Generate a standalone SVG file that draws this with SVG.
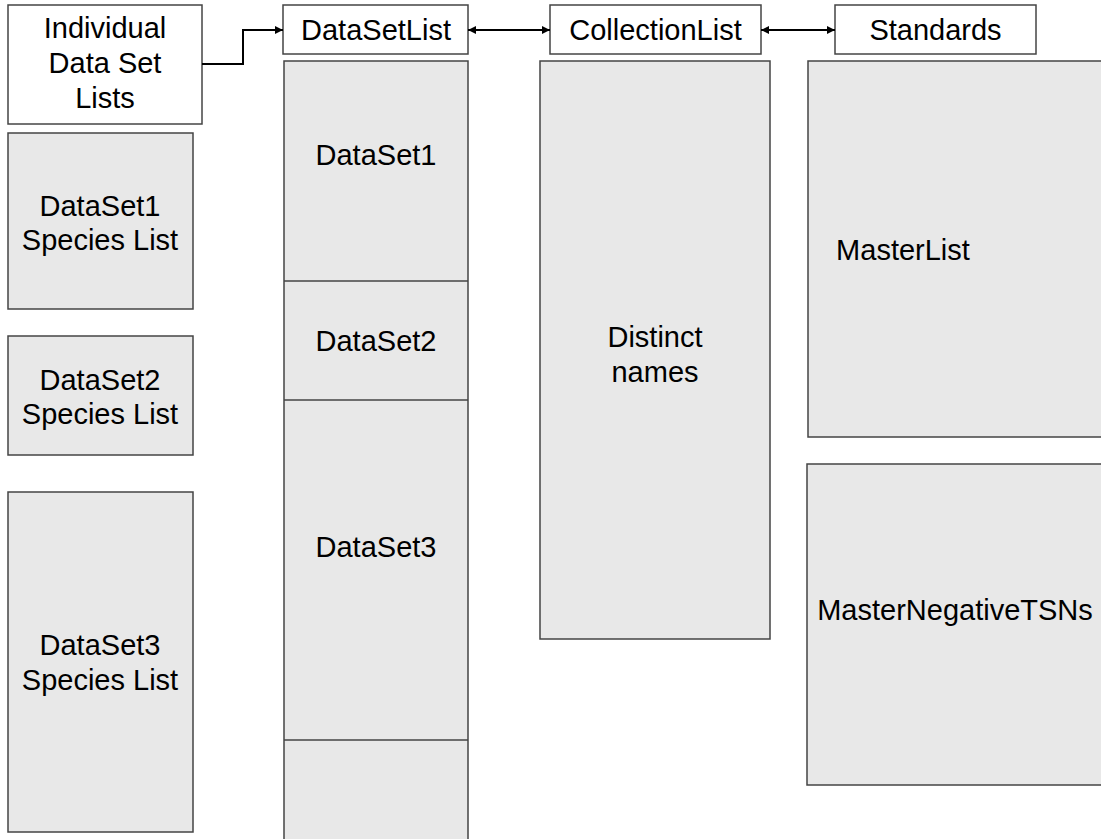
<svg xmlns="http://www.w3.org/2000/svg" width="1101" height="839" viewBox="0 0 1101 839">
<defs>
<style>
.hdr{fill:#ffffff;stroke:#444444;stroke-width:1.5}
.box{fill:#e8e8e8;stroke:#444444;stroke-width:1.5}
.div{stroke:#444444;stroke-width:1.5}
text{font-family:"Liberation Sans",Arial,sans-serif;font-size:29px;fill:#000;text-anchor:middle}
.conn{fill:none;stroke:#000;stroke-width:2}
</style>
<marker id="ah" viewBox="0 0 10 10" refX="10" refY="5" markerWidth="9" markerHeight="8" markerUnits="userSpaceOnUse" orient="auto-start-reverse">
<path d="M0,0 L10,5 L0,10 Z" fill="#000"/>
</marker>
</defs>
<rect width="1101" height="839" fill="#ffffff"/>

<g id="individual">
<rect class="hdr" x="8" y="5" width="194" height="119"/>
<text x="105" y="38">Individual</text>
<text x="105" y="73">Data Set</text>
<text x="105" y="108">Lists</text>
</g>

<g id="dataset1-species">
<rect class="box" x="8" y="133" width="185" height="176"/>
<text x="100" y="216">DataSet1</text>
<text x="100" y="250">Species List</text>
</g>
<g id="dataset2-species">
<rect class="box" x="8" y="336" width="185" height="119"/>
<text x="100" y="390">DataSet2</text>
<text x="100" y="424">Species List</text>
</g>
<g id="dataset3-species">
<rect class="box" x="8" y="492" width="185" height="340"/>
<text x="100" y="655">DataSet3</text>
<text x="100" y="690">Species List</text>
</g>

<g id="datasetlist-header">
<rect class="hdr" x="283" y="5" width="185" height="49"/>
<text x="376" y="40">DataSetList</text>
</g>
<g id="datasetlist-column">
<rect class="box" x="284" y="61" width="184" height="790"/>
<line class="div" x1="284" y1="281" x2="468" y2="281"/>
<line class="div" x1="284" y1="400" x2="468" y2="400"/>
<line class="div" x1="284" y1="740" x2="468" y2="740"/>
<text x="376" y="165">DataSet1</text>
<text x="376" y="351">DataSet2</text>
<text x="376" y="557">DataSet3</text>
</g>

<g id="collectionlist-header">
<rect class="hdr" x="550" y="5" width="211" height="49"/>
<text x="655.5" y="40">CollectionList</text>
</g>
<g id="distinct-names">
<rect class="box" x="540" y="61" width="230" height="578"/>
<text x="655" y="347">Distinct</text>
<text x="655" y="382">names</text>
</g>

<g id="standards-header">
<rect class="hdr" x="835" y="5" width="201" height="49"/>
<text x="935.5" y="40">Standards</text>
</g>
<g id="masterlist">
<rect class="box" x="808" y="61" width="310" height="376"/>
<text x="903" y="260">MasterList</text>
</g>
<g id="masternegativetsns">
<rect class="box" x="807" y="464" width="310" height="321"/>
<text x="955" y="620">MasterNegativeTSNs</text>
</g>

<g id="connectors">
<path class="conn" d="M202,64 H243 V30 H283" marker-end="url(#ah)"/>
<path class="conn" d="M468,30 H550" marker-start="url(#ah)" marker-end="url(#ah)"/>
<path class="conn" d="M761,30 H835" marker-start="url(#ah)" marker-end="url(#ah)"/>
</g>
</svg>
